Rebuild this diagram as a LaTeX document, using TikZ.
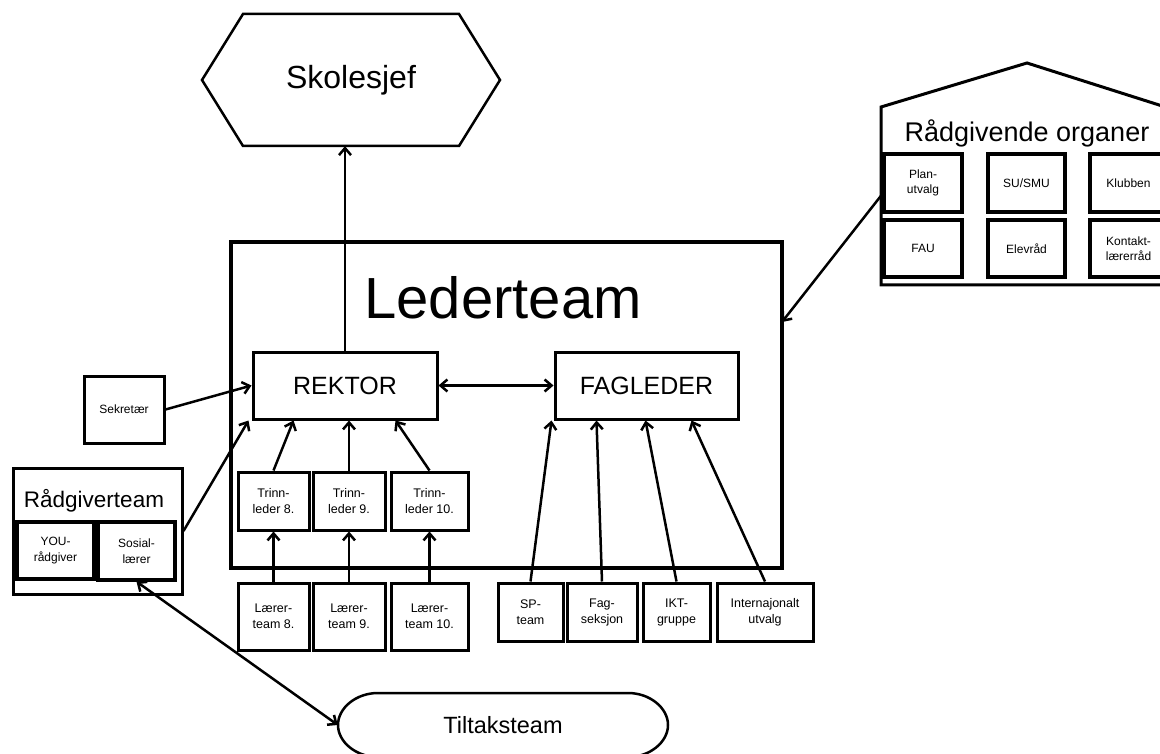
\documentclass[tikz,border=0pt]{standalone}
\usepackage{fontspec}
\setmainfont{Liberation Sans}
\usetikzlibrary{arrows.meta}
\begin{document}
\begin{tikzpicture}[x=1pt,y=-1pt,
  box/.style={draw,line width=3pt,inner sep=0pt,align=center,font=\fontsize{12.5}{16}\selectfont},
  sbox/.style={draw,line width=3.2pt,inner sep=0pt,align=center,font=\fontsize{12}{15.5}\selectfont},
  big/.style={draw,line width=3pt,inner sep=0pt,font=\fontsize{25}{30}\selectfont},
  arr/.style={line width=2.5pt,-{Straight Barb[length=7pt,width=12pt]}},
  darr/.style={line width=2.5pt,{Straight Barb[length=7pt,width=12pt]}-{Straight Barb[length=7pt,width=12pt]}}]
\useasboundingbox (0,0) rectangle (1160,754);
\clip (0,0) rectangle (1160,754);
\fill[white] (0,0) rectangle (1160,754);

% Skolesjef hexagon
\draw[line width=2.5pt,line join=miter] (243,14) -- (459,14) -- (500,80) -- (459,146) -- (243,146) -- (202,80) -- cycle;
\node[minimum width=298pt,minimum height=132pt,inner sep=0pt,font=\fontsize{32}{36}\selectfont] (sk) at (351,80) {Skolesjef};

% Lederteam
\node[draw,line width=4pt,minimum width=551pt,minimum height=326pt,inner sep=0pt] (lt) at (506.5,405) {};
\node[font=\fontsize{58}{64}\selectfont,inner sep=0pt] (ltt) at (503,298) {Lederteam};
\coordinate (ltR) at (782,322);

\node[big,minimum width=184pt,minimum height=67pt] (rek) at (345,385.5) {REKTOR};
\node[big,minimum width=183pt,minimum height=67pt] (fag) at (646.5,385.5) {FAGLEDER};

% Trinnleder
\node[box,minimum width=71pt,minimum height=58pt] (t8) at (273.5,501) {Trinn-\\leder 8.};
\node[box,minimum width=72pt,minimum height=58pt] (t9) at (349,501) {Trinn-\\leder 9.};
\node[box,minimum width=77pt,minimum height=58pt] (t10) at (429.5,501) {Trinn-\\leder 10.};

% Laererteam
\node[box,minimum width=71pt,minimum height=67pt] (l8) at (273.5,616.5) {Lærer-\\team 8.};
\node[box,minimum width=72pt,minimum height=67pt] (l9) at (349,616.5) {Lærer-\\team 9.};
\node[box,minimum width=77pt,minimum height=67pt] (l10) at (429.5,616.5) {Lærer-\\team 10.};

% Fagleder groups
\node[box,minimum width=65pt,minimum height=58pt] (sp) at (530.5,612) {SP-\\team};
\node[box,minimum width=70pt,minimum height=58pt] (fs) at (602,612) {Fag-\\seksjon};
\node[box,minimum width=67pt,minimum height=58pt] (ikt) at (676.5,612) {IKT-\\gruppe};
\node[box,minimum width=96pt,minimum height=58pt] (int) at (765,612) {Internajonalt\\utvalg};

% Sekretaer
\node[box,minimum width=80pt,minimum height=67pt,font=\fontsize{12}{15}\selectfont] (sek) at (124,409.5) {Sekretær};

% Raadgiverteam
\node[draw,line width=3pt,minimum width=169pt,minimum height=126pt,inner sep=0pt] (rt) at (97.5,531) {};
\node[font=\fontsize{22.5}{26}\selectfont,inner sep=0pt] (rtt) at (94,501) {Rådgiverteam};
\node[sbox,minimum width=77pt,minimum height=57pt] (you) at (55.5,550.5) {YOU-\\rådgiver};
\node[sbox,minimum width=77pt,minimum height=58pt] (sos) at (136.5,551) {Sosial-\\lærer};

% Tiltaksteam
\draw[line width=2.5pt] (378,693) -- (628,693) .. controls (650,693) and (668,708) .. (668,725)
  .. controls (668,742) and (650,757) .. (628,757) -- (378,757)
  .. controls (356,757) and (338,742) .. (338,725) .. controls (338,708) and (356,693) .. (378,693) -- cycle;
\node[minimum width=330pt,minimum height=64pt,inner sep=0pt,font=\fontsize{23.5}{28}\selectfont] (tilt) at (503,725) {Tiltaksteam};

% Raadgivende organer house
\draw[line width=3pt,line join=miter] (881,285) -- (881,107) -- (1027,63) -- (1178,111) -- (1178,285) -- cycle;
\node[minimum width=297pt,minimum height=178pt,inner sep=0pt] (ro) at (1029.5,196) {};
\node[font=\fontsize{27}{32}\selectfont,inner sep=0pt] (rot) at (1027,133) {Rådgivende organer};
\node[sbox,minimum width=78pt,minimum height=58pt] (plan) at (923,183) {Plan-\\utvalg};
\node[sbox,minimum width=77pt,minimum height=58pt] (su) at (1026.5,183) {SU/SMU};
\node[sbox,minimum width=77pt,minimum height=58pt] (klub) at (1128.5,183) {Klubben};
\node[sbox,minimum width=78pt,minimum height=57pt] (fau) at (923,248.5) {FAU};
\node[sbox,minimum width=77pt,minimum height=57pt] (elev) at (1026.5,248.5) {Elevråd};
\node[sbox,minimum width=77pt,minimum height=57pt] (kont) at (1128.5,248.5) {Kontakt-\\lærerråd};

% Connectors
\draw[arr] (rek.north) -- (rek.north |- sk.south);
\draw[darr] (rek.east) -- (fag.west);
\draw[arr] (sek.east) -- (rek.west);
\draw[arr] (rt.east) -- ([xshift=-3pt]rek.south west);
\draw[arr] (t8.north) -- ([xshift=42pt]rek.south west);
\draw[arr] (t9.north) -- (t9.north |- rek.south);
\draw[arr] (t10.north) -- ([xshift=144pt]rek.south west);
\draw[arr] (l8.north) -- (t8.south);
\draw[arr] (l9.north) -- (t9.south);
\draw[arr] (l10.north) -- (t10.south);
\draw[arr] (sp.north) -- ([xshift=-2pt]fag.south west);
\draw[arr] (fs.north) -- ([xshift=43pt]fag.south west);
\draw[arr] (ikt.north) -- ([xshift=92pt]fag.south west);
\draw[arr] (int.north) -- ([xshift=138pt]fag.south west);
\draw[arr] (ro.west) -- (ltR);
\draw[darr] (sos.south) -- (tilt.west);
\end{tikzpicture}
\end{document}
